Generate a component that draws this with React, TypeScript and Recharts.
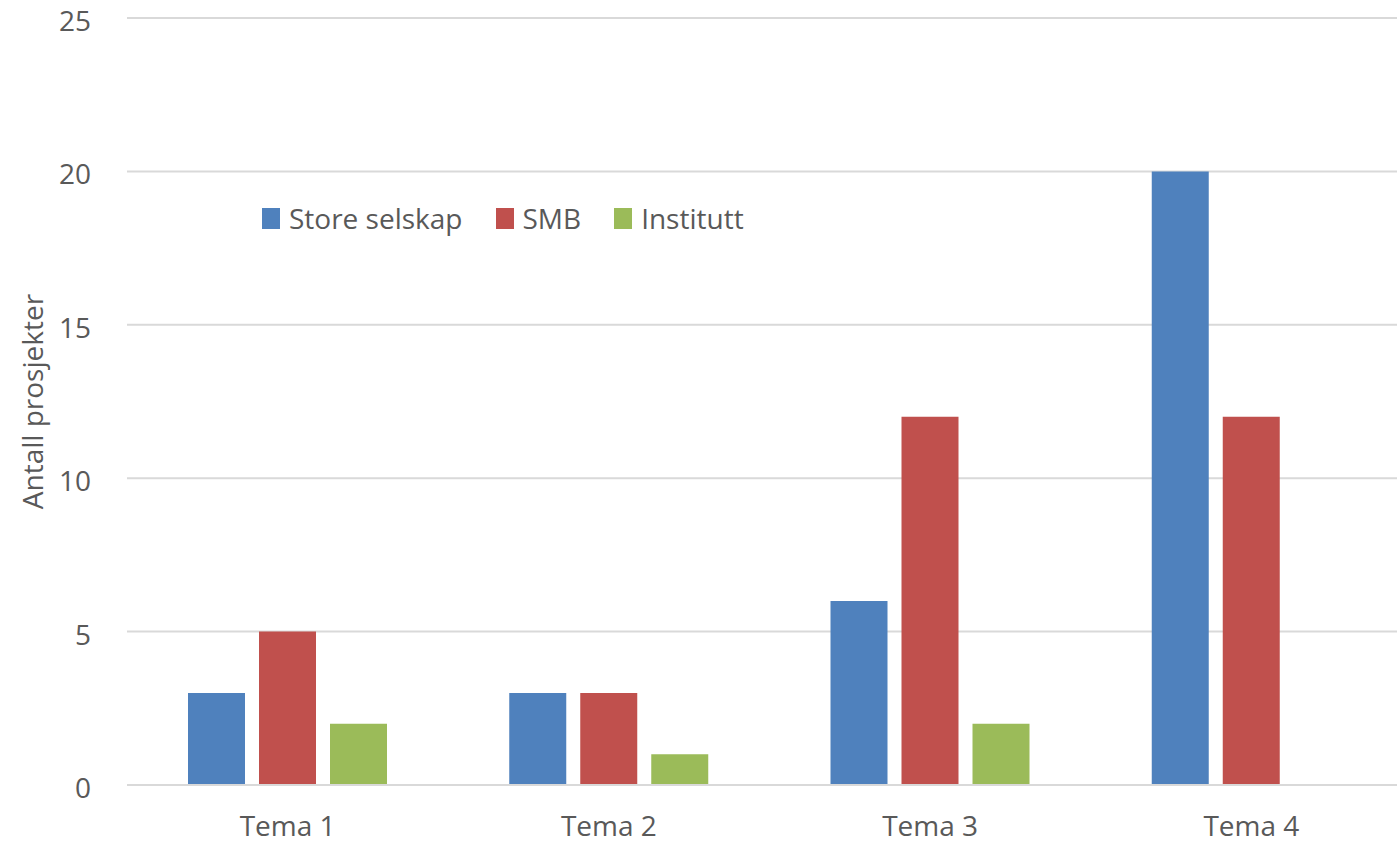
import React from 'react';
import { BarChart, Bar, XAxis, YAxis, CartesianGrid, Legend } from 'recharts';

const categories = ['Tema 1', 'Tema 2', 'Tema 3', 'Tema 4'];
const storeSelskap = [3, 3, 6, 20];
const smb = [5, 3, 12, 12];
const institutt = [2, 1, 2, 0];
const yTicks = [0, 5, 10, 15, 20, 25];

const seriesNames = ['Store selskap', 'SMB', 'Institutt'];
const seriesKeys = ['store', 'smb', 'inst'];
const seriesColors = ['#4F81BD', '#C0504D', '#9BBB59'];

const data = categories.map((c, i) => ({
  name: c,
  store: storeSelskap[i],
  smb: smb[i],
  inst: institutt[i],
}));

const FONT = '"Open Sans", "Noto Sans", sans-serif';
const TEXT = '#595959';

const LegendContent = () => (
  <div style={{ display: 'flex', alignItems: 'center', fontFamily: FONT, fontSize: 28, color: TEXT, whiteSpace: 'nowrap' }}>
    {seriesNames.map((n, i) => (
      <div key={n} style={{ display: 'flex', alignItems: 'center', marginRight: i < 2 ? 33 : 0 }}>
        <div style={{ width: 18, height: 21, background: seriesColors[i], marginRight: 9 }} />
        <span style={{ lineHeight: 1 }}>{n}</span>
      </div>
    ))}
  </div>
);

export default function App() {
  return (
    <div style={{ position: 'absolute', left: 0, top: 0, width: 1397, height: 844, overflow: 'hidden', background: '#fff' }}>
      <BarChart
        width={1412}
        height={844}
        data={data}
        margin={{ top: 18, right: 0, left: 0, bottom: 0 }}
        barGap={14}
        barCategoryGap={61}
      >
        <CartesianGrid vertical={false} stroke="#D9D9D9" strokeWidth={2} />
        <XAxis
          dataKey="name"
          height={59}
          tickLine={false}
          tickSize={29}
          axisLine={{ stroke: '#D9D9D9', strokeWidth: 2 }}
          tick={{ fill: TEXT, fontSize: 28, fontFamily: FONT }}
        />
        <YAxis
          width={127}
          domain={[0, 25]}
          ticks={yTicks}
          axisLine={false}
          tickLine={false}
          tickSize={34}
          tick={{ fill: TEXT, fontSize: 28, fontFamily: FONT, dy: 3 }}
          label={{
            value: 'Antall prosjekter',
            angle: -90,
            position: 'insideLeft',
            offset: 33,
            style: { textAnchor: 'middle', fill: TEXT, fontSize: 28, fontFamily: FONT },
          }}
        />
        <Legend
          verticalAlign="middle"
          align="center"
          content={() => <LegendContent />}
          wrapperStyle={{ position: 'absolute', left: 262, top: 204, width: 'auto' }}
        />
        {seriesKeys.map((k, i) => (
          <Bar key={k} dataKey={k} name={seriesNames[i]} fill={seriesColors[i]} isAnimationActive={false} />
        ))}
      </BarChart>
    </div>
  );
}
